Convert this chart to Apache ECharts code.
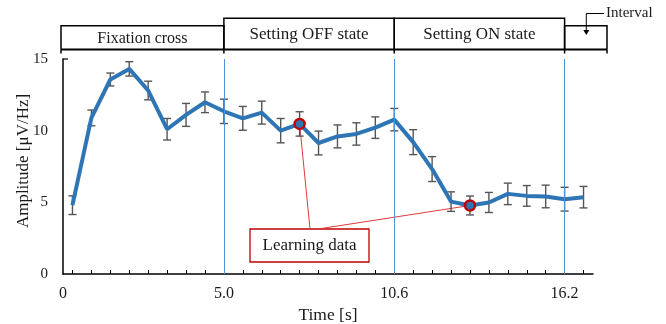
<!DOCTYPE html>
<html><head><meta charset="utf-8">
<script src="https://cdn.jsdelivr.net/npm/echarts@6/dist/echarts.min.js"></script>
<style>html,body{margin:0;padding:0;background:#fff}#c{width:666px;height:324px}</style>
</head><body><div id="c"></div>
<script>
const means = [4.8, 10.89, 13.57, 14.31, 12.8, 10.1, 11.1, 11.98, 11.35, 10.86, 11.26, 10.0, 10.47, 9.14, 9.6, 9.77, 10.21, 10.77, 9.2, 7.32, 5.05, 4.78, 4.99, 5.59, 5.45, 5.41, 5.22, 5.36];
const errors = [0.65, 0.55, 0.45, 0.5, 0.65, 0.75, 0.8, 0.72, 0.85, 0.83, 0.8, 0.85, 0.85, 0.83, 0.8, 0.78, 0.75, 0.78, 0.87, 0.87, 0.68, 0.66, 0.7, 0.75, 0.72, 0.79, 0.83, 0.75];
const categories = means.map((_, i) => String(i));
const tickLabelAt = {8: '5.0', 17: '10.6', 26: '16.2'};
const startLabel = '0';
const phaseLabels = ['Fixation cross', 'Setting OFF state', 'Setting ON state'];
const phaseBoundaryIdx = [8, 17, 26];
const learningIdx = [12, 21];
const intervalLabel = 'Interval';
const learningLabel = 'Learning data';
const yMax = 15;

const FONT = '"Liberation Serif", "Times New Roman", serif';
const TXT = '#1a1a1a';
const chart = echarts.init(document.getElementById('c'));

const errData = means.map((m, i) => [i, m - errors[i], m + errors[i]]);

chart.setOption({
  animation: false,
  grid: {left: 63, right: 73, top: 59, bottom: 50, containLabel: false, outerBoundsMode: 'none'},
  xAxis: [{
    type: 'category', data: categories, boundaryGap: true,
    axisLine: {lineStyle: {color: '#000', width: 1.5}},
    axisTick: {show: true, inside: true, length: 4, alignWithLabel: true, interval: 0, lineStyle: {color: '#000', width: 1}},
    axisLabel: {interval: 0, margin: 12, fontFamily: FONT, fontSize: 16, color: TXT,
      formatter: (v, i) => tickLabelAt[i] || ''},
    name: 'Time [s]', nameLocation: 'middle', nameGap: 32, nameMoveOverlap: false,
    nameTextStyle: {fontFamily: FONT, fontSize: 17.5, color: TXT},
    splitLine: {show: false}
  }, {
    type: 'value', min: 0, max: 28, interval: 28, position: 'bottom',
    axisLine: {show: false}, axisTick: {show: false}, splitLine: {show: false},
    axisLabel: {margin: 12, fontFamily: FONT, fontSize: 16, color: TXT,
      formatter: v => v === 0 ? startLabel : ''}
  }],
  yAxis: {
    type: 'value', min: 0, max: yMax, interval: 5,
    axisLine: {show: true, lineStyle: {color: '#000', width: 1.5}},
    axisTick: {show: false},
    splitLine: {show: false},
    axisLabel: {margin: 15, fontFamily: FONT, fontSize: 15, color: TXT},
    name: 'Amplitude [\u03bcV/Hz]', nameLocation: 'middle', nameGap: 31, nameMoveOverlap: false,
    nameTextStyle: {fontFamily: FONT, fontSize: 17, color: TXT, padding: [0, 0, 0, 11]}
  },
  series: [{
    type: 'custom', z: 2,
    data: errData,
    renderItem: (params, api) => {
      const x = api.value(0);
      const lo = api.coord([x, api.value(1)]);
      const hi = api.coord([x, api.value(2)]);
      const w = 4;
      const st = {stroke: '#555', lineWidth: 1.4};
      return {type: 'group', children: [
        {type: 'line', shape: {x1: lo[0], y1: lo[1], x2: hi[0], y2: hi[1]}, style: st},
        {type: 'line', shape: {x1: lo[0] - w, y1: lo[1], x2: lo[0] + w, y2: lo[1]}, style: st},
        {type: 'line', shape: {x1: hi[0] - w, y1: hi[1], x2: hi[0] + w, y2: hi[1]}, style: st}
      ]};
    }
  }, {
    type: 'line', z: 3, data: means, symbol: 'none',
    lineStyle: {color: '#2e75b6', width: 4},
    markLine: {
      silent: true, symbol: 'none', label: {show: false},
      lineStyle: {color: '#4f93d6', width: 1, type: 'solid'},
      data: phaseBoundaryIdx.map(i => ({xAxis: categories[i]}))
    }
  }, {
    type: 'scatter', z: 5,
    data: learningIdx.map(i => [i, means[i]]),
    symbol: 'circle', symbolSize: 10,
    itemStyle: {color: '#2e75b6', borderColor: '#c00000', borderWidth: 2.5, opacity: 1}
  }]
});

// annotations computed from axis scale
const px = i => chart.convertToPixel({xAxisIndex: 0, yAxisIndex: 0}, [i, 0])[0];
const ptOf = i => chart.convertToPixel({xAxisIndex: 0, yAxisIndex: 0}, [i, means[i]]);
const bx = [61, px(phaseBoundaryIdx[0]), px(phaseBoundaryIdx[1]), px(phaseBoundaryIdx[2]), 607];
const baseY = 49.5;
const tops = [25.7, 18.3, 18.3, 25.7];
const g = [];
const blk = {stroke: '#000', lineWidth: 1.5, fill: null};
for (let k = 0; k < 4; k++) {
  g.push({type: 'polyline', shape: {points: [[bx[k], baseY], [bx[k], tops[k]], [bx[k + 1], tops[k]], [bx[k + 1], baseY]]}, style: blk});
}
g.push({type: 'line', shape: {x1: bx[0], y1: baseY, x2: bx[4], y2: baseY}, style: {stroke: '#000', lineWidth: 2}});
bx.forEach(x => g.push({type: 'line', shape: {x1: x, y1: baseY, x2: x, y2: 53.5}, style: {stroke: '#000', lineWidth: 1.5}}));
const tc = [38.5, 35, 35];
const tf = [16, 17, 17];
for (let k = 0; k < 3; k++) {
  g.push({type: 'text', x: (bx[k] + bx[k + 1]) / 2, y: tc[k],
    style: {text: phaseLabels[k], font: tf[k] + 'px ' + FONT, fill: TXT, align: 'center', verticalAlign: 'middle'}});
}
const ax = (bx[3] + bx[4]) / 2 + 0.5;
g.push({type: 'polyline', shape: {points: [[604, 13.5], [ax, 13.5], [ax, 30]]}, style: {stroke: '#000', lineWidth: 1, fill: null}});
g.push({type: 'polygon', shape: {points: [[ax - 3, 30], [ax + 3, 30], [ax, 35]]}, style: {fill: '#000'}});
g.push({type: 'text', x: 606, y: 13, style: {text: intervalLabel, font: '15px ' + FONT, fill: TXT, align: 'left', verticalAlign: 'middle'}});

// small tick at the top of the y axis
const yTop = chart.convertToPixel({xAxisIndex: 0, yAxisIndex: 0}, [0, yMax])[1];
g.push({type: 'line', shape: {x1: 63, y1: yTop, x2: 68, y2: yTop}, style: {stroke: '#000', lineWidth: 1.2}});

// learning data callout
const p1 = ptOf(learningIdx[0]);
const p2 = ptOf(learningIdx[1]);
g.push({type: 'line', z: 1, shape: {x1: 310, y1: 229, x2: p1[0], y2: p1[1]}, style: {stroke: '#e03a3a', lineWidth: 1}});
g.push({type: 'line', z: 1, shape: {x1: 318, y1: 229, x2: p2[0], y2: p2[1]}, style: {stroke: '#e03a3a', lineWidth: 1}});
g.push({type: 'rect', shape: {x: 250, y: 229, width: 119, height: 33}, style: {stroke: '#c00000', lineWidth: 1.3, fill: '#fff'}});
g.push({type: 'text', x: 309.5, y: 246, style: {text: learningLabel, font: '17px ' + FONT, fill: TXT, align: 'center', verticalAlign: 'middle'}});

chart.setOption({graphic: {elements: g}});
</script></body></html>
